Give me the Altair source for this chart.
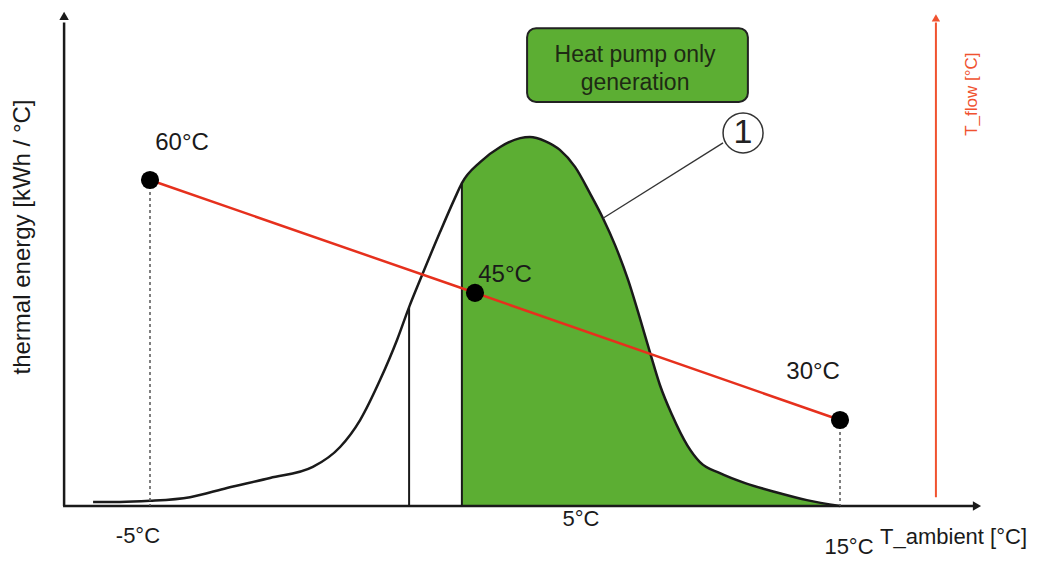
import altair as alt
import pandas as pd

# ---- data (schematic) ----
# heat demand curve: ambient temperature [°C] vs thermal energy (relative units, peak = 100)
curve_t = [-6.65, -5.87, -5.0, -3.84, -2.77, -1.52, -0.28, 0.51, 1.09, 1.67, 2.16, 2.51,
           2.83, 3.41, 3.84, 4.04, 4.57, 5.15, 5.73, 6.01, 6.45, 6.88, 7.32, 7.75, 8.13,
           8.48, 8.86, 9.20, 9.49, 9.78, 10.13, 10.57, 10.94, 11.52, 12.25, 13.12, 14.04, 15.0]
curve_e = [1.1, 1.1, 1.4, 2.4, 4.9, 7.6, 10.6, 16.0, 23.3, 34.2, 45.0, 53.9,
           61.3, 74.3, 83.5, 87.5, 93.2, 97.3, 99.7, 100.0, 98.9, 96.5, 91.9, 84.8, 78.0,
           70.7, 61.2, 50.9, 41.7, 32.8, 24.7, 16.5, 11.9, 8.9, 6.2, 3.8, 1.6, 0.0]

# thresholds (vertical lines under the curve)
thr_t = [2.51, 4.04]
thr_e = [53.9, 87.5]
hp_only_from = 4.04

# flow temperature curve
flow_t = [-5.0, 4.42, 15.0]
flow_T = [60.0, 45.9, 30.0]
flow_lbl = ["60°C", "45°C", "30°C"]
flow_lbl_t = [-4.07, 5.29, 14.22]
flow_lbl_T = [64.6, 48.1, 36.0]
T_AT_XAXIS = 19.25  # flow-temperature value at the height of the x axis

# x-axis labels
xlab_text = ["-5°C", "5°C", "15°C"]
xlab_t = [-5.35, 7.49, 15.26]
xlab_e = [-8.1, -3.5, -11.1]

GREEN = "#5CAE33"
DARK = "#1a1a1a"
RED = "#E6301D"
RED2 = "#F0522F"
FONT = "Liberation Sans"

xs = alt.Scale(domain=[-9.116, 20.565], nice=False, zero=False)
es = alt.Scale(domain=[-14.63, 134.96], nice=False, zero=False)
ts = alt.Scale(domain=[12.5, 81.5], nice=False, zero=False)

curve = pd.DataFrame({"t": curve_t, "e": curve_e})
curve["base"] = 0.0
hp = curve[curve["t"] >= hp_only_from]
thr = pd.DataFrame({"t": thr_t, "e": thr_e, "base": [0.0, 0.0]})
flow = pd.DataFrame({"t": flow_t, "T": flow_T})
drops = pd.DataFrame({"t": [flow_t[0], flow_t[-1]], "T": [flow_T[0], flow_T[-1]],
                      "Tb": [T_AT_XAXIS, T_AT_XAXIS]})
flow_labels = pd.DataFrame({"t": flow_lbl_t, "T": flow_lbl_T, "text": flow_lbl})
xlabels = pd.DataFrame({"t": xlab_t, "e": xlab_e, "text": xlab_text})

X = alt.X("t:Q", scale=xs, axis=None)
YE = alt.Y("e:Q", scale=es, axis=None)
YT = alt.Y("T:Q", scale=ts, axis=None)

area = alt.Chart(hp).mark_area(color=GREEN, interpolate="monotone").encode(
    x=X, y=YE, y2="base:Q")
vlines = alt.Chart(thr).mark_rule(color=DARK, strokeWidth=2).encode(x=X, y=YE, y2="base:Q")
line = alt.Chart(curve).mark_line(color=DARK, strokeWidth=2.5, interpolate="monotone").encode(
    x=X, y=YE)

# axes drawn as arrows
axes = pd.DataFrame({"t": [-7.52, -7.49], "t2": [18.91, -7.49],
                     "e": [0.0, 0.0], "e2": [0.0, 131.0]})
axis_lines = alt.Chart(axes).mark_rule(color=DARK, strokeWidth=2.5).encode(
    x=X, x2="t2:Q", y=YE, y2="e2:Q")
heads = pd.DataFrame({"t": [-7.49, 18.97], "e": [132.8, 0.0],
                      "shape": ["triangle-up", "triangle-right"]})
axis_heads = alt.Chart(heads).mark_point(filled=True, color=DARK, size=90, opacity=1).encode(
    x=X, y=YE, shape=alt.Shape("shape:N", scale=None))

raxis = pd.DataFrame({"t": [17.78], "e": [2.4], "e2": [131.0]})
red_axis = alt.Chart(raxis).mark_rule(color=RED2, strokeWidth=2).encode(x=X, y=YE, y2="e2:Q")
rhead = pd.DataFrame({"t": [17.78], "e": [132.3]})
red_head = alt.Chart(rhead).mark_point(filled=True, color=RED2, size=70, shape="triangle-up",
                                        opacity=1).encode(x=X, y=YE)

flow_line = alt.Chart(flow).mark_line(color=RED, strokeWidth=2.5).encode(x=X, y=YT)
drop_lines = alt.Chart(drops).mark_rule(color="#555555", strokeWidth=1.5,
                                        strokeDash=[3, 3]).encode(x=X, y=YT, y2="Tb:Q")
dots = alt.Chart(flow).mark_circle(size=330, color="black", opacity=1).encode(x=X, y=YT)
flow_text = alt.Chart(flow_labels).mark_text(font=FONT, fontSize=24, color=DARK).encode(
    x=X, y=YT, text="text:N")

xlab = alt.Chart(xlabels).mark_text(font=FONT, fontSize=22, color=DARK).encode(
    x=X, y=YE, text="text:N")
xtitle = alt.Chart(pd.DataFrame({"t": [16.16], "e": [-8.4], "text": ["T_ambient [°C]"]})).mark_text(
    font=FONT, fontSize=22, color=DARK, align="left").encode(x=X, y=YE, text="text:N")
ytitle = alt.Chart(pd.DataFrame({"t": [-8.68], "e": [72.9],
                                 "text": ["thermal energy [kWh / °C]"]})).mark_text(
    font=FONT, fontSize=24, color=DARK, angle=270).encode(x=X, y=YE, text="text:N")
rtitle = alt.Chart(pd.DataFrame({"t": [18.83], "e": [111.6], "text": ["T_flow [°C]"]})).mark_text(
    font=FONT, fontSize=17, color=RED2, angle=270).encode(x=X, y=YE, text="text:N")

box = alt.Chart(pd.DataFrame({"t": [5.93], "t2": [12.33], "e": [129.5], "e2": [109.5]})).mark_rect(
    color=GREEN, stroke="#222222", strokeWidth=2, cornerRadius=9).encode(
    x=X, x2="t2:Q", y=YE, y2="e2:Q")
box_text = alt.Chart(pd.DataFrame({"t": [9.06, 9.06], "e": [122.2, 114.6],
                                   "text": ["Heat pump only", "generation"]})).mark_text(
    font=FONT, fontSize=23, color="#1e2a14").encode(x=X, y=YE, text="text:N")

leader = alt.Chart(pd.DataFrame({"t": [11.61], "t2": [8.13], "e": [98.4], "e2": [78.0]})).mark_rule(
    color="#333333", strokeWidth=1.3).encode(x=X, x2="t2:Q", y=YE, y2="e2:Q")
marker = alt.Chart(pd.DataFrame({"t": [12.19], "e": [101.1]})).mark_point(
    shape="circle", size=1600, filled=True, fill="white", stroke="#333333", strokeWidth=1.5,
    opacity=1).encode(x=X, y=YE)
marker_text = alt.Chart(pd.DataFrame({"t": [12.19], "e": [101.1], "text": ["1"]})).mark_text(
    font=FONT, fontSize=34, color="#222222").encode(x=X, y=YE, text="text:N")

chart = alt.layer(
    area, vlines, line, axis_lines, axis_heads, red_axis, red_head,
    drop_lines, flow_line, dots, flow_text,
    xlab, xtitle, ytitle, rtitle, box, box_text, leader, marker, marker_text,
).resolve_scale(y="independent").properties(
    width=1024, height=552, padding=0, autosize="none", background="white"
).configure_view(stroke=None)

chart.save("out.html", embed_options={"renderer": "svg", "actions": False})
